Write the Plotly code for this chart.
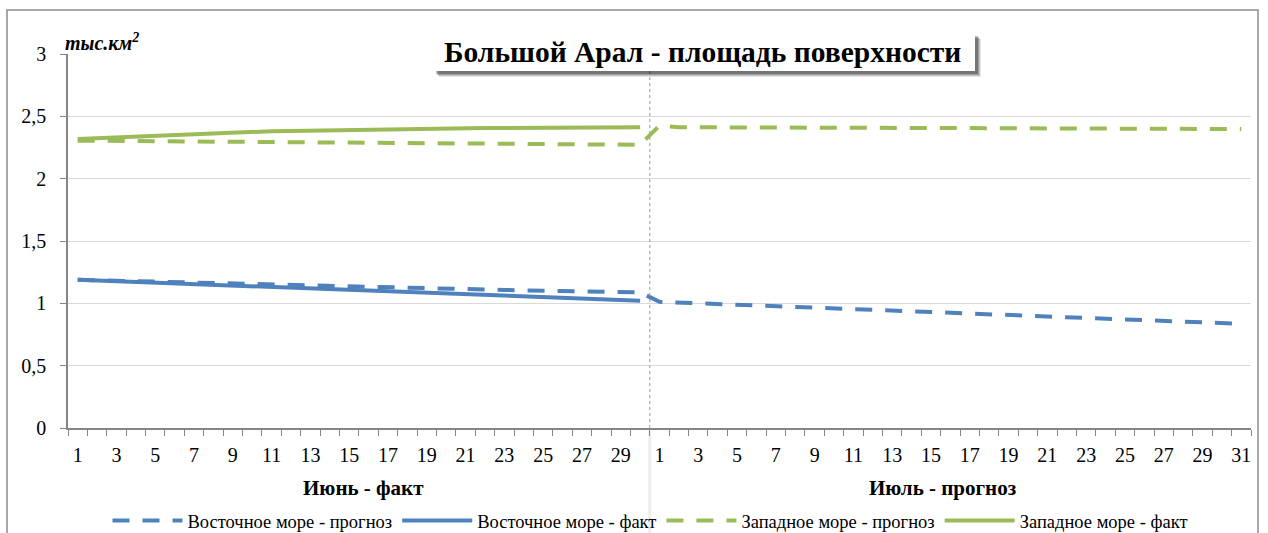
import plotly.graph_objects as go

# Days of each month on the category axis
june_days = list(range(1, 31))
july_days = list(range(1, 32))

# Surface area, thousand km2
east_fact_june = [1.189, 1.183, 1.177, 1.171, 1.165, 1.159, 1.153, 1.147, 1.141, 1.136,
                  1.130, 1.125, 1.119, 1.113, 1.107, 1.101, 1.096, 1.090, 1.084, 1.078,
                  1.073, 1.067, 1.061, 1.056, 1.050, 1.044, 1.039, 1.033, 1.027, 1.021]
east_fc_june = [1.189, 1.185, 1.181, 1.176, 1.172, 1.168, 1.164, 1.160, 1.156, 1.152,
                1.148, 1.144, 1.140, 1.137, 1.133, 1.130, 1.126, 1.123, 1.119, 1.116,
                1.113, 1.110, 1.107, 1.104, 1.101, 1.098, 1.096, 1.093, 1.091, 1.088]
east_fc_july = [1.012, 1.006, 1.000, 0.994, 0.988, 0.983, 0.977, 0.971, 0.965, 0.959,
                0.953, 0.947, 0.941, 0.936, 0.930, 0.924, 0.918, 0.912, 0.906, 0.900,
                0.895, 0.889, 0.883, 0.877, 0.871, 0.865, 0.859, 0.854, 0.848, 0.842, 0.836]
west_fact_june = [2.318, 2.325, 2.332, 2.338, 2.345, 2.352, 2.358, 2.365, 2.372, 2.378,
                  2.381, 2.383, 2.386, 2.388, 2.391, 2.394, 2.396, 2.399, 2.401, 2.404,
                  2.405, 2.406, 2.407, 2.408, 2.409, 2.410, 2.410, 2.411, 2.412, 2.413]
west_fc_june = [2.305, 2.304, 2.303, 2.302, 2.301, 2.299, 2.298, 2.297, 2.296, 2.295,
                2.294, 2.293, 2.292, 2.290, 2.289, 2.288, 2.287, 2.286, 2.285, 2.284,
                2.283, 2.281, 2.280, 2.279, 2.278, 2.277, 2.276, 2.275, 2.274, 2.272]
west_fc_july = [2.425, 2.413, 2.412, 2.412, 2.411, 2.411, 2.410, 2.410, 2.409, 2.409,
                2.408, 2.408, 2.407, 2.407, 2.406, 2.406, 2.405, 2.405, 2.404, 2.404,
                2.403, 2.403, 2.402, 2.402, 2.401, 2.401, 2.400, 2.400, 2.399, 2.399, 2.398]

y_ticks = [0, 0.5, 1, 1.5, 2, 2.5, 3]
y_tick_text = ["0", "0,5", "1", "1,5", "2", "2,5", "3"]

BLUE = "#4F81BD"
GREEN = "#9BBB59"
SERIF = "Liberation Serif"
DASH = "17px,13px"

# Consecutive positions along one axis: June first, then July
june_pos = [i + 1 for i in range(len(june_days))]
july_pos = [len(june_days) + i + 1 for i in range(len(july_days))]
all_pos = june_pos + july_pos
n_total = len(all_pos)

W, H = 1268, 533
L, R, T, B = 68, 17, 54, 105
PW, PH = W - L - R, H - T - B


def px_x(px):
    return (px - L) / PW


def px_y(py):
    return (H - B - py) / PH


fig = go.Figure()
fig.add_trace(go.Scatter(x=all_pos, y=east_fc_june + east_fc_july, mode="lines",
                         name="Восточное море - прогноз",
                         line=dict(color=BLUE, width=4, dash=DASH)))
fig.add_trace(go.Scatter(x=june_pos, y=east_fact_june, mode="lines",
                         name="Восточное море - факт",
                         line=dict(color=BLUE, width=4)))
fig.add_trace(go.Scatter(x=all_pos, y=west_fc_june + west_fc_july, mode="lines",
                         name="Западное море - прогноз",
                         line=dict(color=GREEN, width=4, dash=DASH)))
fig.add_trace(go.Scatter(x=june_pos, y=west_fact_june, mode="lines",
                         name="Западное море - факт",
                         line=dict(color=GREEN, width=4)))

tick_pos = [p for p, d in zip(all_pos, june_days + july_days) if d % 2 == 1]
tick_txt = [str(d) for d in june_days + july_days if d % 2 == 1]

fig.update_xaxes(range=[0.5, n_total + 0.5], tickvals=tick_pos, ticktext=tick_txt,
                 ticks="", showgrid=False, zeroline=False,
                 showline=True, linecolor="#868686", linewidth=1.5,
                 ticklabelstandoff=8,
                 tickfont=dict(family=SERIF, size=20, color="#000"),
                 minor=dict(tickvals=[i + 0.5 for i in range(n_total + 1)],
                            ticks="outside", ticklen=6, tickcolor="#868686",
                            tickwidth=1, showgrid=False))
fig.update_yaxes(range=[0, 3], tickvals=y_ticks, ticktext=y_tick_text,
                 ticks="outside", ticklen=6, tickcolor="#868686",
                 showgrid=True, gridcolor="#D9D9D9", gridwidth=1, zeroline=False,
                 showline=True, linecolor="#868686", linewidth=1.5,
                 ticklabelstandoff=10,
                 tickfont=dict(family=SERIF, size=20, color="#000"))

shapes = []
# outer chart frame
shapes.append(dict(type="rect", xref="paper", yref="paper",
                   x0=px_x(7), x1=px_x(1258), y0=px_y(560), y1=px_y(10),
                   line=dict(color="#8C8C8C", width=1.5), layer="below"))
# divider between fact and forecast
shapes.append(dict(type="line", xref="x", yref="y",
                   x0=len(june_days) + 0.5, x1=len(june_days) + 0.5, y0=0, y1=3,
                   line=dict(color="#9A9A9A", width=1, dash="dot"), layer="above"))
shapes.append(dict(type="line", xref="x", yref="paper",
                   x0=len(june_days) + 0.5, x1=len(june_days) + 0.5,
                   y0=px_y(533), y1=px_y(431),
                   line=dict(color="#EDEDED", width=3), layer="below"))
# title box shadow and box
for off, op in [(6, 0.10), (5, 0.15), (4, 0.2), (3, 0.25)]:
    shapes.append(dict(type="rect", xref="paper", yref="paper",
                       x0=px_x(433 + off), x1=px_x(975 + off),
                       y0=px_y(71 + off), y1=px_y(33 + off),
                       line=dict(width=0), fillcolor="rgba(0,0,0,%s)" % op, layer="above"))
shapes.append(dict(type="rect", xref="paper", yref="paper",
                   x0=px_x(433), x1=px_x(975), y0=px_y(71), y1=px_y(33),
                   line=dict(width=0), fillcolor="white", layer="above"))

annotations = [
    dict(text="<b>Большой Арал - площадь поверхности</b>", xref="paper", yref="paper",
         x=px_x(702), y=px_y(52), xanchor="center", yanchor="middle", showarrow=False,
         font=dict(family=SERIF, size=29.5, color="#000")),
    dict(text="<b><i>тыс.км<sup>2</sup></i></b>", xref="paper", yref="paper",
         x=px_x(63), y=px_y(42), xanchor="left", yanchor="middle", showarrow=False,
         font=dict(family=SERIF, size=20, color="#000")),
    dict(text="<b>Июнь - факт</b>", xref="x", yref="paper",
         x=(june_pos[0] + june_pos[-1]) / 2, y=px_y(488), xanchor="center", yanchor="middle",
         xshift=5, showarrow=False, font=dict(family=SERIF, size=21, color="#000")),
    dict(text="<b>Июль - прогноз</b>", xref="x", yref="paper",
         x=(july_pos[0] + july_pos[-1]) / 2, y=px_y(488), xanchor="center", yanchor="middle",
         xshift=-8, showarrow=False, font=dict(family=SERIF, size=21, color="#000")),
]

fig.update_layout(
    width=W, height=H,
    margin=dict(l=L, r=R, t=T, b=B, autoexpand=False),
    paper_bgcolor="white", plot_bgcolor="white",
    font=dict(family=SERIF),
    shapes=shapes, annotations=annotations,
    showlegend=True,
    legend=dict(orientation="h", x=px_x(650), y=px_y(521), xanchor="center", yanchor="middle",
                font=dict(family=SERIF, size=18.5, color="#000"),
                itemwidth=70, tracegroupgap=0, bgcolor="rgba(0,0,0,0)"),
)

fig.write_html("out.html")
